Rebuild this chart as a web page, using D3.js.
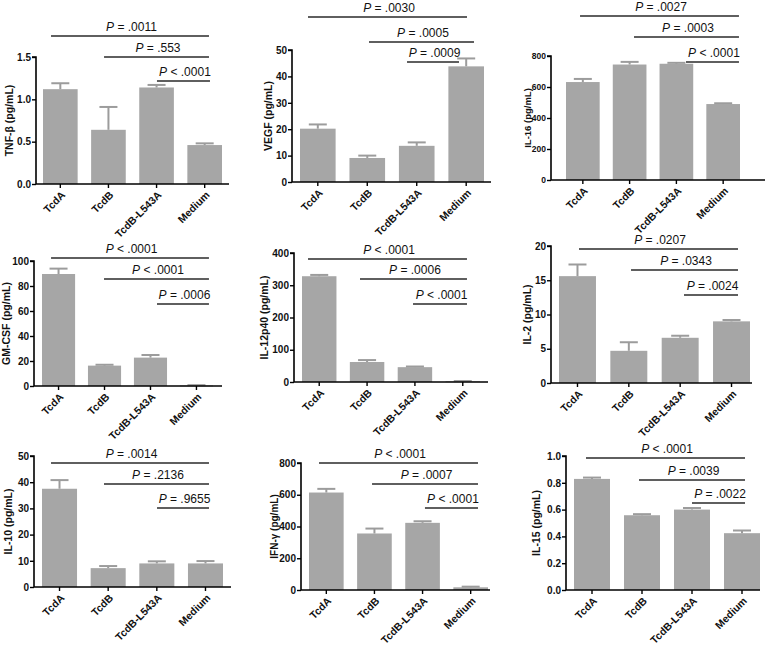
<!DOCTYPE html>
<html>
<head>
<meta charset="utf-8">
<script src="https://cdn.jsdelivr.net/npm/d3@7"></script>
<style>
  html, body { margin: 0; padding: 0; background: #fff; }
  svg { display: block; }
  text { font-family: "Liberation Sans", Arial, sans-serif; }
</style>
</head>
<body>
<svg id="chart" width="768" height="648"></svg>
<script>
// ---------------- data ----------------
const categories = ["TcdA", "TcdB", "TcdB-L543A", "Medium"];
const cytokines = ["TNF-β", "VEGF", "IL-16", "GM-CSF", "IL-12p40", "IL-2", "IL-10", "IFN-γ", "IL-15"];
const yMaxes = [1.5, 50, 800, 100, 400, 20, 50, 800, 1.0];
const yTickSteps = [0.5, 10, 200, 20, 100, 5, 10, 200, 0.2];
const tickDecimals = [1, 0, 0, 0, 0, 0, 0, 0, 1];
const meanValues = [
  [1.12, 0.64, 1.14, 0.46],
  [20.2, 9.1, 13.7, 43.8],
  [632, 745, 750, 490],
  [89.6, 16.3, 22.7, 0.4],
  [328, 62, 46, 2],
  [15.6, 4.7, 6.6, 9.0],
  [37.5, 7.2, 9.0, 9.0],
  [614, 356, 423, 17],
  [0.829, 0.558, 0.600, 0.424]
];
const errorValues = [
  [0.07, 0.27, 0.03, 0.02],
  [1.6, 0.9, 1.3, 3.0],
  [20, 17, 6, 5],
  [4.3, 0.7, 2.1, 0.3],
  [4, 6, 2, 1],
  [1.7, 1.25, 0.3, 0.2],
  [3.3, 0.8, 0.8, 0.9],
  [23, 31, 10, 4],
  [0.010, 0.008, 0.012, 0.020]
];
const comparisons = [[0, 3], [1, 3], [2, 3]];
const pSigns = [
  ["=", "=", "<"],
  ["=", "=", "="],
  ["=", "=", "<"],
  ["<", "<", "="],
  ["<", "=", "<"],
  ["=", "=", "="],
  ["=", "=", "="],
  ["<", "=", "<"],
  ["<", "=", "="]
];
const pValues = [
  [".0011", ".553", ".0001"],
  [".0030", ".0005", ".0009"],
  [".0027", ".0003", ".0001"],
  [".0001", ".0001", ".0006"],
  [".0001", ".0006", ".0001"],
  [".0207", ".0343", ".0024"],
  [".0014", ".2136", ".9655"],
  [".0001", ".0007", ".0001"],
  [".0001", ".0039", ".0022"]
];

// ---------------- layout (pixels) ----------------
const layout = [
  {ax: 36,  top: 57,  bottom: 184, bs: 43,  be: 222, ae: 229, yl: -27,  tfs: 10, lfs: 10.5, brY: [-21, 0, 24],  brX: [[-9.3, 4.3], [-4.4, 4.3], [0.4, 5.3]]},
  {ax: 292, top: 50,  bottom: 182, bs: 300, be: 484, ae: 491, yl: -24, tfs: 10, lfs: 10.5, brY: [-33, -8, 12], brX: [[-9.8, 0.8], [1.7, 7.8], [-9.7, -7.2]]},
  {ax: 551, top: 56,  bottom: 180, bs: 566, be: 740, ae: 765, yl: -23,  tfs: 8.5, lfs: 9.5, brY: [-40, -19, 6], brX: [[-2.8, 15.8], [4.4, 15.8], [9.6, 15.8]]},
  {ax: 34,  top: 261, bottom: 386, bs: 42,  be: 213, ae: 222, yl: -28, tfs: 10, lfs: 10.5, brY: [-3, 18, 43],  brX: [[-7.5, 12.5], [-0.5, 12.5], [6.5, 12.5]]},
  {ax: 294, top: 253, bottom: 382, bs: 302, be: 480, ae: 488, yl: -30,  tfs: 10, lfs: 10.5, brY: [6, 26, 51],   brX: [[-11.2, 4.2], [-7.1, 4.2], [-1.9, 4.2]]},
  {ax: 551, top: 246, bottom: 383, bs: 559, be: 750, ae: 752, yl: -24,  tfs: 10, lfs: 10.5, brY: [3, 24, 49],   brX: [[1.5, 6.5], [2.2, 6.5], [3.8, 6.5]]},
  {ax: 34,  top: 456, bottom: 587, bs: 42,  be: 223, ae: 231, yl: -26,  tfs: 10, lfs: 10.5, brY: [7, 28, 52],   brX: [[-8.5, 3.5], [-4.2, 3.5], [0.2, 3.5]]},
  {ax: 301, top: 463, bottom: 590, bs: 309, be: 488, ae: 490, yl: -27,  tfs: 10, lfs: 10, brY: [0, 21, 45],   brX: [[-7.3, 7.3], [-2.4, 7.3], [2.4, 7.3]]},
  {ax: 566, top: 456, bottom: 590, bs: 574, be: 760, ae: 760, yl: -30,  tfs: 10, lfs: 10.5, brY: [2, 24, 47],   brX: [[-6, 3], [-3, 3], [0, 3]]}
];

const barColor = "#a6a6a6";
const errColor = "#9c9c9c";
const lineColor = "#2a2a2a";

const svg = d3.select("#chart");

cytokines.forEach((name, pi) => {
  const L = layout[pi];
  const g = svg.append("g");

  const x = d3.scaleBand().domain(categories).range([L.bs, L.be]).paddingInner(0.28).paddingOuter(0);
  const y = d3.scaleLinear().domain([0, yMaxes[pi]]).range([L.bottom, L.top]);
  const cx = c => x(c) + x.bandwidth() / 2;

  const rows = categories.map((c, i) => ({c, m: meanValues[pi][i], e: errorValues[pi][i]}));

  // bars
  g.selectAll("rect.bar").data(rows).join("rect")
    .attr("class", "bar")
    .attr("x", d => x(d.c))
    .attr("width", x.bandwidth())
    .attr("y", d => y(d.m))
    .attr("height", d => Math.max(0.8, y(0) - y(d.m)))
    .attr("fill", barColor);

  // error bars (upper only)
  g.selectAll("line.ev").data(rows).join("line")
    .attr("class", "ev")
    .attr("x1", d => cx(d.c)).attr("x2", d => cx(d.c))
    .attr("y1", d => y(d.m)).attr("y2", d => y(d.m + d.e))
    .attr("stroke", errColor).attr("stroke-width", 2);
  g.selectAll("line.ec").data(rows).join("line")
    .attr("class", "ec")
    .attr("x1", d => cx(d.c) - 9).attr("x2", d => cx(d.c) + 9)
    .attr("y1", d => y(d.m + d.e)).attr("y2", d => y(d.m + d.e))
    .attr("stroke", errColor).attr("stroke-width", 2);

  // y axis
  const ticks = d3.range(0, yMaxes[pi] + yTickSteps[pi] / 2, yTickSteps[pi]);
  const yAxis = d3.axisLeft(y).tickValues(ticks).tickSize(4).tickPadding(1)
    .tickFormat(d3.format("." + tickDecimals[pi] + "f"));
  const ya = g.append("g").attr("transform", `translate(${L.ax},0)`).call(yAxis);
  ya.select(".domain").attr("stroke", "#000").attr("stroke-width", 1.6)
    .attr("d", `M-4,${L.top}H0V${L.bottom}`);
  ya.selectAll(".tick line").attr("stroke", "#000").attr("stroke-width", 1.4);
  ya.selectAll(".tick text").attr("font-size", L.tfs).attr("font-weight", "bold")
    .attr("fill", "#111").attr("font-family", "Liberation Sans, Arial, sans-serif");

  // x axis
  const xa = g.append("g").attr("transform", `translate(0,${L.bottom})`);
  xa.append("line").attr("x1", L.ax).attr("x2", L.ae).attr("y1", 0).attr("y2", 0)
    .attr("stroke", "#000").attr("stroke-width", 1.6);
  xa.selectAll("line.xt").data(categories).join("line")
    .attr("class", "xt")
    .attr("x1", c => cx(c)).attr("x2", c => cx(c)).attr("y1", 0).attr("y2", 4)
    .attr("stroke", "#000").attr("stroke-width", 1.4);
  xa.selectAll("text.xl").data(categories).join("text")
    .attr("class", "xl")
    .attr("transform", c => `translate(${cx(c) + 3},${9}) rotate(-45)`)
    .attr("text-anchor", "end")
    .attr("dy", "0.35em")
    .attr("font-size", 10.5).attr("font-weight", "bold").attr("fill", "#111")
    .text(c => c);

  // y label
  g.append("text")
    .attr("transform", `translate(${L.ax + L.yl},${(L.top + L.bottom) / 2}) rotate(-90)`)
    .attr("text-anchor", "middle")
    .attr("dy", "0.35em")
    .attr("font-size", L.lfs).attr("font-weight", "bold").attr("fill", "#111")
    .text(name + " (pg/mL)");

  // comparison brackets
  comparisons.forEach((cmp, k) => {
    const x1 = cx(categories[cmp[0]]) + L.brX[k][0];
    const x2 = cx(categories[cmp[1]]) + L.brX[k][1];
    const yy = L.top + L.brY[k];
    g.append("line").attr("x1", x1).attr("x2", x2).attr("y1", yy).attr("y2", yy)
      .attr("stroke", lineColor).attr("stroke-width", 1.6);
    const t = g.append("text")
      .attr("x", (x1 + x2) / 2 + 1.5).attr("y", yy - 5)
      .attr("text-anchor", "middle").attr("font-size", 12).attr("fill", "#111");
    t.append("tspan").attr("font-style", "italic").text("P");
    t.append("tspan").text(" " + pSigns[pi][k] + " " + pValues[pi][k]);
  });
});
</script>
</body>
</html>
